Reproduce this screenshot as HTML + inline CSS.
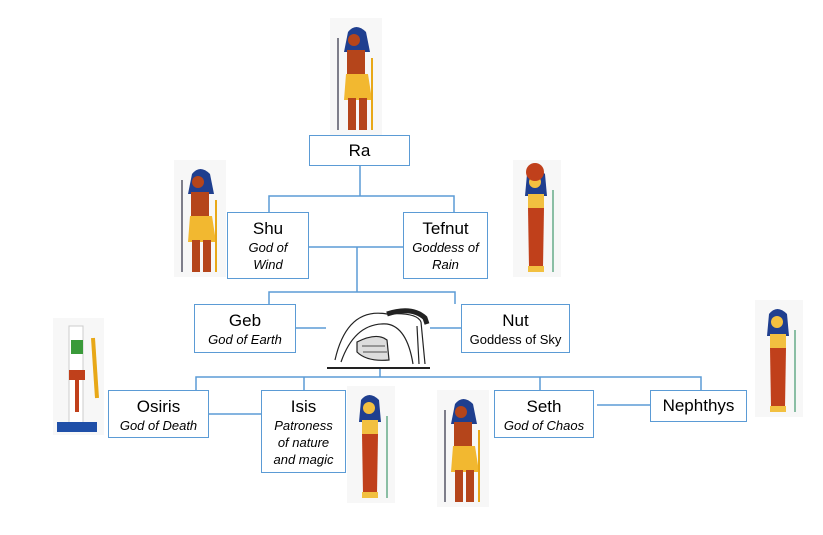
<!DOCTYPE html>
<html><head><style>
body{margin:0;background:#fff;width:823px;height:535px;overflow:hidden;position:relative;font-family:"Liberation Sans",sans-serif}
.b{position:absolute;border:1.5px solid #5b9bd5;background:#fff;box-sizing:border-box;text-align:center;color:#000}
.t{font-size:17px;line-height:20px;margin-top:6px}
.s{font-size:13px;font-style:italic;line-height:17px}
svg{position:absolute;left:0;top:0}
</style></head><body>
<svg width="823" height="535">
<defs>
<g id="man">
<rect x="0" y="0" width="52" height="117" fill="#f7f7f7"/>
<path d="M18 14 q8-10 18 0 l4 20 h-26z" fill="#1f3f8f"/>
<circle cx="24" cy="22" r="6" fill="#b5451b"/>
<rect x="17" y="32" width="18" height="26" fill="#b5451b"/>
<path d="M16 56 h22 l4 26 h-28z" fill="#f2b830"/>
<rect x="18" y="80" width="8" height="32" fill="#b5451b"/>
<rect x="29" y="80" width="8" height="32" fill="#b5451b"/>
<line x1="8" y1="20" x2="8" y2="112" stroke="#556" stroke-width="1.5"/>
<line x1="42" y1="40" x2="42" y2="112" stroke="#e8a818" stroke-width="2"/>
</g>
<g id="woman">
<rect x="0" y="0" width="48" height="117" fill="#f7f7f7"/>
<path d="M14 14 q8-10 18 0 l2 22 h-22z" fill="#1f3f8f"/>
<circle cx="22" cy="22" r="6" fill="#f2c040"/>
<rect x="15" y="34" width="16" height="14" fill="#f2c040"/>
<path d="M15 48 h16 l-1 60 h-14z" fill="#c0401b"/>
<rect x="15" y="106" width="16" height="6" fill="#f2c040"/>
<line x1="40" y1="30" x2="40" y2="112" stroke="#6a8" stroke-width="1.5"/>
</g>
</defs>
<g stroke="#5b9bd5" stroke-width="1.5" fill="none">
<path d="M360 166V196M269 212V196H454V212"/>
<path d="M308 247H403M357 247V292M269 304V292H455V304"/>
<path d="M296 328H326M430 328H461"/>
<path d="M380 368V377M196 390V377H701V390M304 377V390M540 377V390"/>
<path d="M209 414H261M597 405H650"/>
</g>
<use href="#man" x="330" y="18"/>
<use href="#man" x="174" y="160"/>
<g transform="translate(513,160)"><use href="#woman"/><circle cx="22" cy="12" r="9" fill="#c0401b"/></g>
<g transform="translate(53,318)"><rect width="51" height="117" fill="#f7f7f7"/><path d="M16 8h14v100h-14z" fill="#fff" stroke="#ccc"/><rect x="18" y="22" width="12" height="14" fill="#3a9a3a"/><rect x="16" y="52" width="16" height="10" fill="#c0401b"/><rect x="22" y="62" width="4" height="32" fill="#c0401b"/><rect x="4" y="104" width="40" height="10" fill="#1f4fa8"/><line x1="40" y1="20" x2="44" y2="80" stroke="#e8a818" stroke-width="4"/></g>
<use href="#woman" x="347" y="386"/>
<use href="#man" x="437" y="390"/>
<use href="#woman" x="755" y="300"/>
<g transform="translate(327,302)" stroke="#222" fill="none" stroke-width="1.2">
<path d="M8 58 Q20 5 60 12 Q90 10 94 20 M14 60 Q28 20 60 22 Q80 25 86 62"/>
<path d="M94 20 L98 62 M90 24 L92 62"/>
<path d="M60 12 Q85 4 98 16 L100 22" stroke-width="5"/>
<path d="M30 40 Q50 30 60 38 L62 58 Q40 60 30 50z" fill="#ddd"/>
<path d="M35 44 L58 44 M36 50 L60 50" stroke-width="0.8"/>
<path d="M0 66H103" stroke-width="2"/>
</g>
</svg>
<div class="b" style="left:309px;top:135px;width:101px;height:31px"><div class="t" style="margin-top:5px">Ra</div></div>
<div class="b" style="left:227px;top:212px;width:82px;height:67px"><div class="t">Shu</div><div class="s">God of<br>Wind</div></div>
<div class="b" style="left:403px;top:212px;width:85px;height:67px"><div class="t">Tefnut</div><div class="s">Goddess of<br>Rain</div></div>
<div class="b" style="left:194px;top:304px;width:102px;height:49px"><div class="t">Geb</div><div class="s">God of Earth</div></div>
<div class="b" style="left:461px;top:304px;width:109px;height:49px"><div class="t">Nut</div><div class="s" style="font-style:normal">Goddess of Sky</div></div>
<div class="b" style="left:108px;top:390px;width:101px;height:48px"><div class="t">Osiris</div><div class="s">God of Death</div></div>
<div class="b" style="left:261px;top:390px;width:85px;height:83px"><div class="t">Isis</div><div class="s">Patroness<br>of nature<br>and magic</div></div>
<div class="b" style="left:494px;top:390px;width:100px;height:48px"><div class="t">Seth</div><div class="s">God of Chaos</div></div>
<div class="b" style="left:650px;top:390px;width:97px;height:32px"><div class="t" style="margin-top:5px">Nephthys</div></div>
</body></html>
